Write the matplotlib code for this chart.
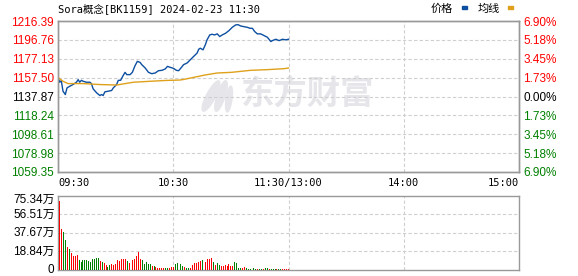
import matplotlib
matplotlib.use("Agg")
import matplotlib.pyplot as plt
from matplotlib.patches import Rectangle, Ellipse
from matplotlib.transforms import blended_transform_factory, IdentityTransform
import numpy as np

plt.rcParams["font.family"] = ["Liberation Sans", "Noto Sans CJK SC"]

title = "Sora概念[BK1159] 2024-02-23 11:30"
prev_close = 1137.87
price_levels = [1216.39, 1196.76, 1177.13, 1157.50, 1137.87, 1118.24, 1098.61, 1078.98, 1059.35]
pct_labels = ["6.90%", "5.18%", "3.45%", "1.73%", "0.00%", "1.73%", "3.45%", "5.18%", "6.90%"]
vol_levels = [75.34, 56.51, 37.67, 18.84, 0]
vol_labels = ["75.34万", "56.51万", "37.67万", "18.84万", "0"]
time_ticks = [0, 60, 120, 180, 240]
time_labels = ["09:30", "10:30", "11:30/13:00", "14:00", "15:00"]

# minutes after 09:30 / price
price_t = [0, 0.9, 1.7, 2.6, 3.8, 4.7, 6.1, 7.8, 9.6, 10.5,
           11.3, 12.2, 13.1, 14.8, 16.6, 17.4, 18.3, 20.1, 21.8, 22.7,
           23.5, 24.4, 26.2, 27.9, 28.8, 30.5, 31.4, 32.6, 33.7, 34.9,
           35.8, 37.5, 38.7, 40.1, 41.3, 42.7, 43.6, 45.4, 47.1, 48.8,
           50.6, 52.3, 54.1, 55.8, 57.0, 58.4, 60.2, 61.6, 62.8, 64.0,
           65.4, 67.2, 68.9, 70.6, 72.4, 73.3, 74.1, 75.5, 76.7, 77.6,
           79.0, 80.2, 81.5, 82.9, 84.2, 85.5, 87.2, 89.0, 90.7, 92.5,
           93.7, 95.1, 96.8, 98.6, 100.0, 101.2, 102.4, 103.8, 105.5, 107.3,
           109.0, 110.8, 111.6, 113.4, 115.1, 116.9, 118.6, 120.0]
price = [1157.8, 1152.7, 1154.4, 1143.4, 1139.9, 1146.8, 1148.5, 1150.3, 1152.7, 1155.4,
         1152.7, 1154.7, 1153.7, 1152.7, 1152.7, 1151.3, 1145.8, 1141.7, 1138.9, 1139.9,
         1138.9, 1142.7, 1143.4, 1144.1, 1146.8, 1150.3, 1154.7, 1154.7, 1158.9, 1163.0,
         1160.6, 1160.6, 1163.0, 1169.9, 1174.4, 1173.4, 1171.0, 1167.5, 1163.0, 1161.6,
         1162.3, 1164.7, 1165.1, 1166.5, 1169.2, 1168.2, 1167.1, 1165.1, 1164.7, 1167.5,
         1171.0, 1172.7, 1176.1, 1179.5, 1183.0, 1187.1, 1188.1, 1186.4, 1191.6, 1196.8,
         1201.9, 1202.6, 1201.9, 1203.0, 1200.2, 1201.9, 1203.6, 1206.4, 1209.8, 1212.3,
         1212.6, 1211.2, 1210.5, 1209.8, 1208.8, 1208.8, 1205.4, 1203.0, 1203.0, 1201.2,
         1199.5, 1195.0, 1196.0, 1197.4, 1196.0, 1197.4, 1196.8, 1197.4]

avg_t = [0, 2.6, 5.2, 13.0, 21.8, 30.5, 39.2, 48.0, 56.7, 63.5, 65.4, 74.1, 76.4,
         82.9, 90.3, 100.3, 109.0, 117.7, 120.0]
avg = [1157.8, 1153.7, 1151.3, 1151.3, 1150.3, 1149.8, 1152.7, 1153.7, 1154.6, 1155.0,
       1155.6, 1159.2, 1160.2, 1162.3, 1163.0, 1165.1, 1165.8, 1166.8, 1167.5]

# volume per minute (万), r = up, g = down
volume = [69.9, 41.3, 38.9, 30.7, 23.5, 21.5, 17.4, 14.7, 14.7, 15.3,
          10.2, 8.2, 10.2, 10.2, 10.2, 9.2, 8.2, 11.3, 11.3, 12.3,
          12.3, 9.2, 8.2, 7.2, 5.1, 3.4, 5.1, 6.1, 5.1, 6.1,
          10.2, 9.2, 11.3, 11.3, 11.3, 9.2, 7.2, 6.1, 10.2, 11.3,
          14.3, 18.4, 11.3, 10.2, 6.1, 8.2, 6.1, 6.1, 4.1, 4.1,
          3.1, 2.0, 2.0, 2.0, 2.0, 2.0, 2.0, 2.0, 3.1, 3.1,
          6.1, 7.2, 9.2, 6.1, 4.1, 3.1, 2.0, 2.0, 2.0, 5.1,
          7.2, 7.2, 8.2, 9.2, 10.2, 6.1, 8.2, 11.3, 11.3, 12.3,
          8.2, 5.1, 7.2, 5.1, 4.1, 4.1, 5.1, 4.1, 6.1, 4.1,
          4.1, 8.2, 7.2, 2.0, 2.0, 2.0, 3.1, 2.0, 1.0, 1.0,
          2.0, 2.0, 1.0, 1.0, 1.0, 1.0, 1.0, 2.0, 2.0, 1.0,
          1.0, 1.0, 1.0, 1.0, 1.0, 1.0, 1.0, 1.0, 1.0, 1.0]
vol_dir = ("rrggrgrrrr" "gggggggggg" "grgrrggrrr" "rrrrrgrrrr"
           "rrrgggggrg" "rrrrrggrrr" "gggggrggrr" "rrrrgrrrrr"
           "grggrrrrrr" "rggggrrggg" "gggrggrggr" "gggrggrrrr")

RED, GREEN, BLACK = "#ff0000", "#008000", "#000000"
GRID = "#cfcfcf"
FRAME = "#999999"
MARK = "#e6e6ea"
W, H = 578, 276

fig = plt.figure(figsize=(W / 100, H / 100), dpi=100)
ax = fig.add_axes([58 / W, (H - 172) / H, 461 / W, 151 / H])
axv = fig.add_axes([58 / W, (H - 270) / H, 461 / W, 74 / H])

# price panel
ax.plot(price_t, price, color="#0d4fa1", lw=1.0, zorder=3)
ax.plot(avg_t, avg, color="#dfa11b", lw=1.0, zorder=3)
ax.set_xlim(time_ticks[0], time_ticks[-1])
ax.set_ylim(price_levels[-1], price_levels[0])
for lv in price_levels[1:-1]:
    ax.axhline(lv, color=GRID, lw=0.8, ls=(0, (3, 2)), zorder=1)
for t in time_ticks[1:-1]:
    ax.axvline(t, color=GRID, lw=0.8, ls=(0, (3, 2)), zorder=1)

# watermark
ax.text(0.395, 0.51, "东方财富", transform=ax.transAxes, fontsize=24,
        fontweight="bold", style="italic", color=MARK, va="center",
        ha="left", family="Noto Sans CJK SC", zorder=0.5)
for cx, cy, ln, wd, ang in [(211, 96, 34, 9, 62), (221, 96, 32, 8, 72), (229, 99, 26, 6, 82)]:
    ax.add_patch(Ellipse((cx, H - cy), ln, wd, angle=ang, transform=IdentityTransform(),
                         color=MARK, zorder=0.5))

lvl_colors = [RED if v > prev_close else (BLACK if v == prev_close else GREEN)
              for v in price_levels]
ax.set_yticks(price_levels)
ax.set_yticklabels([f"{v:.2f}" for v in price_levels], fontsize=8.5)
for lab, c in zip(ax.get_yticklabels(), lvl_colors):
    lab.set_color(c)

ax2 = ax.twinx()
ax2.set_ylim(ax.get_ylim())
ax2.set_yticks(price_levels)
ax2.set_yticklabels(pct_labels, fontsize=8.5)
for lab, c in zip(ax2.get_yticklabels(), lvl_colors):
    lab.set_color(c)

ax.set_xticks(time_ticks)
ax.set_xticklabels(time_labels, fontsize=7.5,
                   family=["DejaVu Sans Mono", "Noto Sans CJK SC"])
xl = ax.get_xticklabels()
xl[0].set_ha("left")
xl[-1].set_ha("right")

for a in (ax, ax2):
    a.tick_params(length=0, pad=3)
    for s in a.spines.values():
        s.set_color(FRAME)
        s.set_linewidth(1.0)
ax.tick_params(axis="x", pad=4)

# volume panel
bar_x = np.arange(1, len(volume) + 1)
bar_c = [RED if d == "r" else GREEN for d in vol_dir]
axv.bar(bar_x, volume, width=0.5, color=bar_c, linewidth=0,
        antialiased=False, zorder=3)
axv.set_xlim(time_ticks[0], time_ticks[-1])
axv.set_ylim(0, vol_levels[0])
for lv in vol_levels[1:-1]:
    axv.axhline(lv, color=GRID, lw=0.8, ls=(0, (3, 2)), zorder=1)
for t in time_ticks[1:-1]:
    axv.axvline(t, color=GRID, lw=0.8, ls=(0, (3, 2)), zorder=1)
axv.set_xticks([])
axv.set_yticks([])
tr = blended_transform_factory(axv.transAxes, axv.transData)
for v, lab in zip(vol_levels, vol_labels):
    off = -3 if v == vol_levels[0] else 0
    axv.annotate(lab, (0, v), xycoords=tr, xytext=(-2.5, off),
                 textcoords="offset points", ha="right", va="center",
                 fontsize=8.5, color=BLACK)
for s in axv.spines.values():
    s.set_color(FRAME)
    s.set_linewidth(1.0)

# title and legend
fig.text(58 / W, 1 - 9 / H, title, fontsize=7.5, va="center", ha="left",
         family=["DejaVu Sans Mono", "Noto Sans CJK SC"])
fig.text(431 / W, 1 - 9 / H, "价格", fontsize=8, va="center", ha="left",
         family="Noto Sans CJK SC")
fig.text(478 / W, 1 - 9 / H, "均线", fontsize=8, va="center", ha="left",
         family="Noto Sans CJK SC")
fig.patches.append(Rectangle((462 / W, 1 - 9 / H), 5 / W, 3 / H,
                             transform=fig.transFigure, color="#0d4fa1"))
fig.patches.append(Rectangle((508 / W, 1 - 9 / H), 5 / W, 3 / H,
                             transform=fig.transFigure, color="#dfa11b"))

fig.savefig("out.png", dpi=100, facecolor="white")
